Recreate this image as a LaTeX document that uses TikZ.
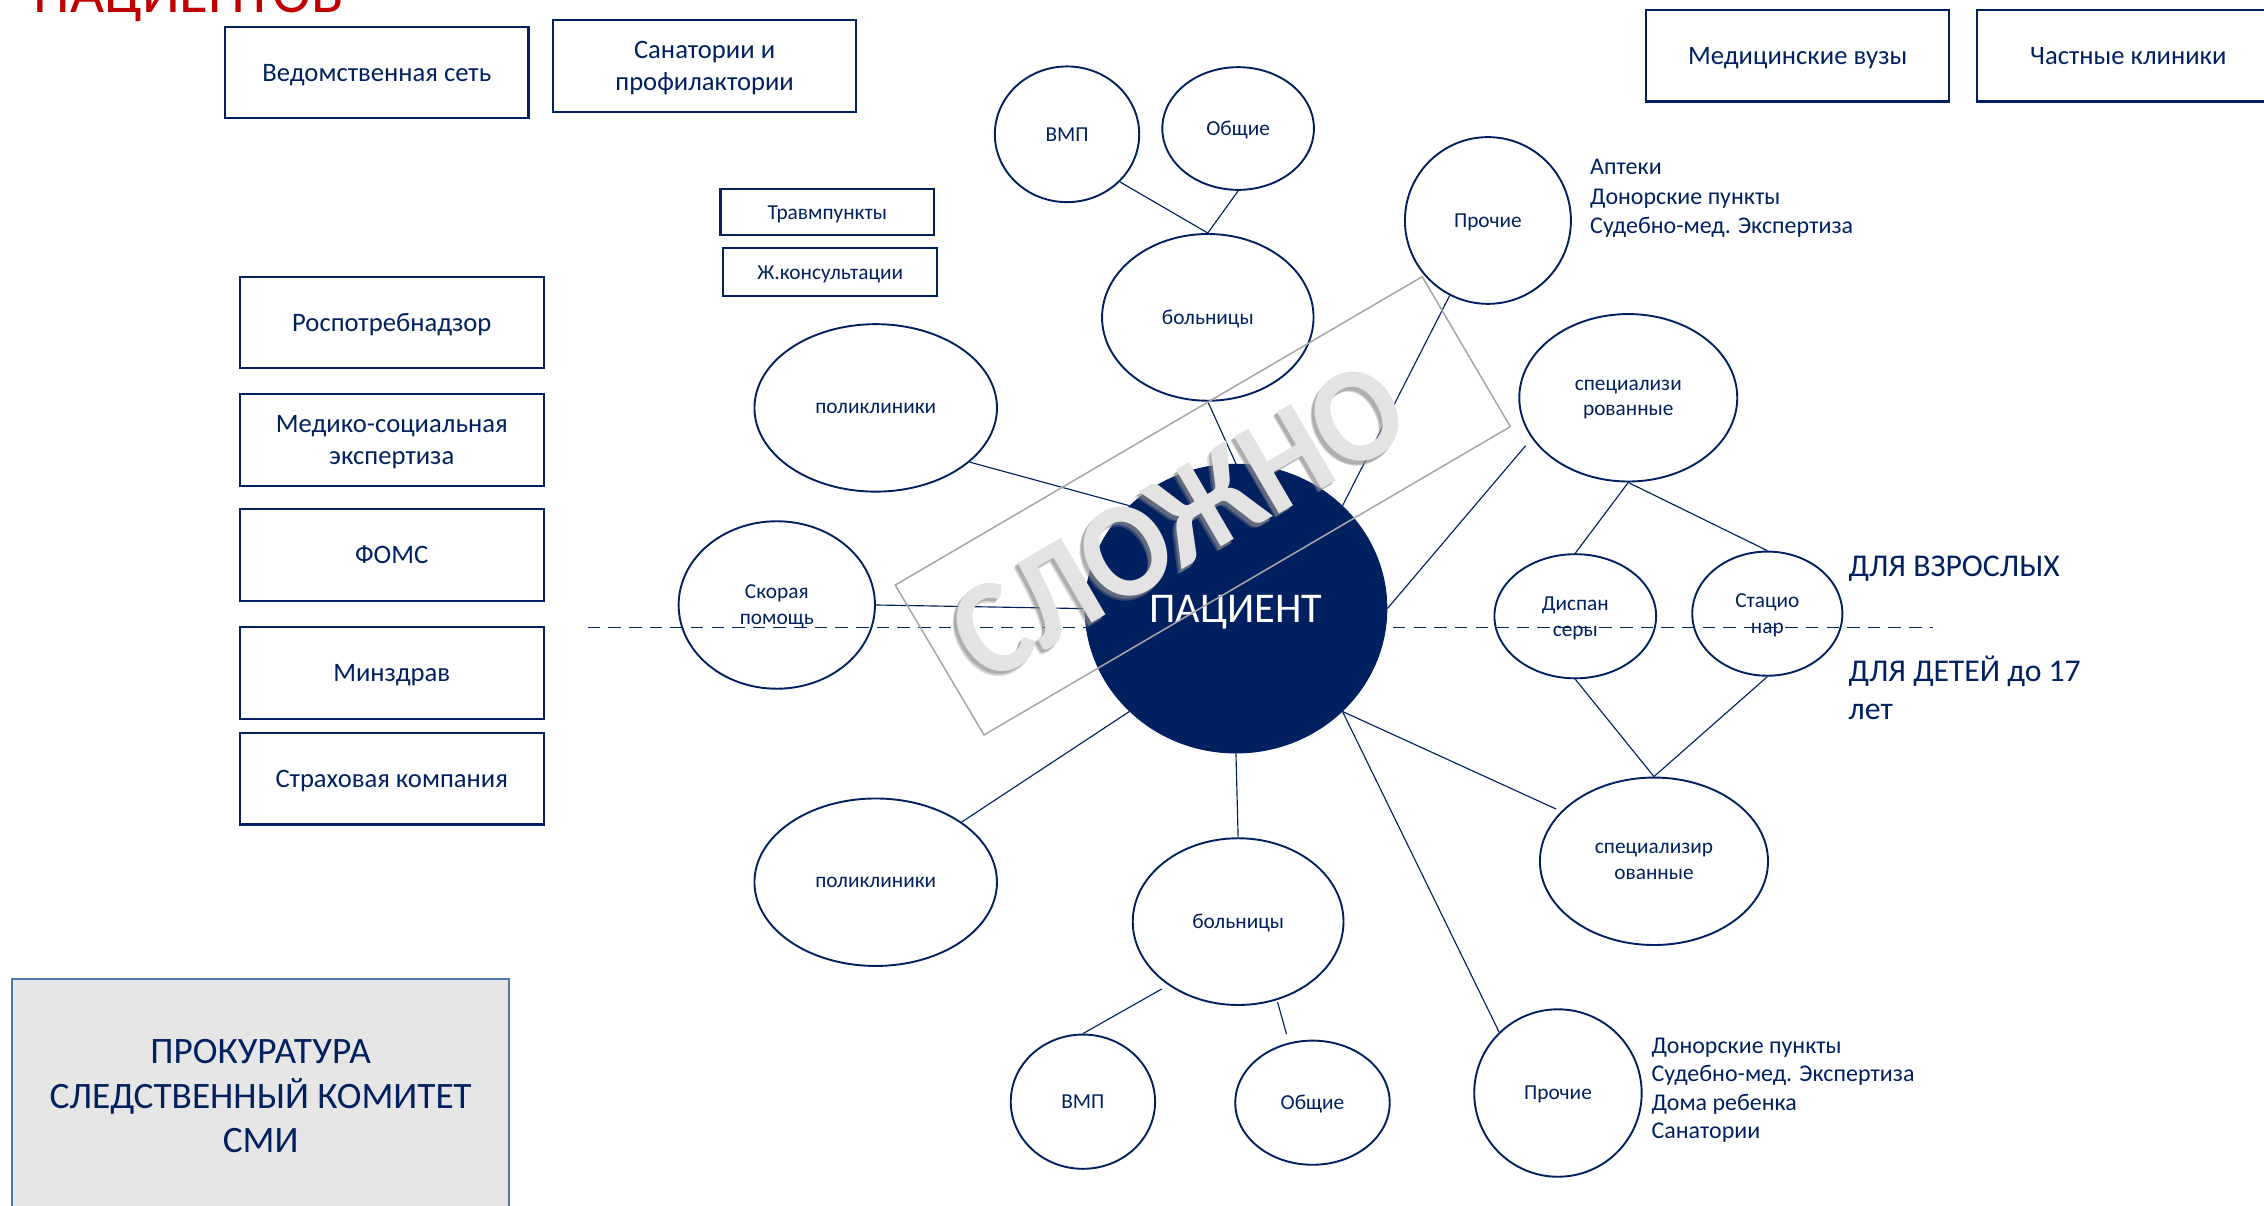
\documentclass[tikz,border=0pt]{standalone}
\usepackage{fontspec}
\setmainfont{Carlito}
\usetikzlibrary{shapes.geometric}
\definecolor{navy}{HTML}{002060}
\definecolor{titlered}{HTML}{C00000}
\definecolor{prokfill}{HTML}{E6E6E6}
\definecolor{prokline}{HTML}{4A78B0}
\definecolor{wmline}{HTML}{A6A6A6}
\definecolor{wmtext}{HTML}{E3E3E3}
\definecolor{wmshadow}{HTML}{8C8C8C}
\tikzset{
  box/.style={draw=navy, line width=0.85pt, rectangle, inner sep=0pt, align=center,
    text=navy, text depth=0pt, font=\fontsize{10.5}{12.5}\selectfont},
  smallbox/.style={box, font=\fontsize{8.4}{10.2}\selectfont},
  ell/.style={draw=navy, line width=0.75pt, ellipse, inner sep=0pt, align=center,
    text=navy, text depth=0pt, font=\fontsize{8.4}{10.2}\selectfont},
  con/.style={draw=navy, line width=0.45pt},
  listtxt/.style={anchor=base west, inner sep=0pt, text=navy, font=\fontsize{9.45}{11.2}\selectfont},
  agetxt/.style={anchor=base west, inner sep=0pt, text=navy, font=\fontsize{12.5}{15}\selectfont},
  wmframe/.style={draw=wmline, line width=0.6pt},
  wmfont/.style={inner sep=0pt, rotate=30.3, xscale=0.92, font=\fontsize{54}{64}\selectfont\bfseries}
}
\begin{document}
\begin{tikzpicture}[x=0.02cm, y=-0.02cm]
\useasboundingbox (0,0) rectangle (1568,835);

% title (cut off at the top)
\node[anchor=base west, inner sep=0pt, text=titlered, font=\fontsize{23.2}{27}\selectfont] (title) at (23,8.5) {ПАЦИЕНТОВ};

% dashed divider
\coordinate (dL) at (407,434.5);
\coordinate (dR) at (1339,434.5);
\draw[draw=navy, line width=0.6pt, dash pattern=on 8.7*0.02cm off 5.6*0.02cm] (dL) -- (dR);

% top boxes
\node[box, minimum width=4.2cm, minimum height=1.26cm] (ved) at (261,50.4) {Ведомственная сеть};
\node[box, minimum width=4.2cm, minimum height=1.27cm] (san) at (488,45.6) {Санатории и\\профилактории};
\node[box, minimum width=4.2cm, minimum height=1.27cm] (med) at (1245,38.6) {Медицинские вузы};
\node[box, minimum width=4.2cm, minimum height=1.27cm] (chas) at (1474,38.6) {Частные клиники};
\node[smallbox, minimum width=2.96cm, minimum height=0.64cm] (trav) at (573,147) {Травмпункты};
\node[smallbox, minimum width=2.96cm, minimum height=0.66cm] (zhk) at (575,188.5) {Ж.консультации};

% left column boxes
\node[box, minimum width=4.21cm, minimum height=1.26cm] (ros) at (271.3,223.2) {Роспотребнадзор};
\node[box, minimum width=4.21cm, minimum height=1.27cm] (mse) at (271.3,304.8) {Медико-социальная\\экспертиза};
\node[box, minimum width=4.21cm, minimum height=1.27cm] (foms) at (271.3,384.3) {ФОМС};
\node[box, minimum width=4.21cm, minimum height=1.28cm] (minz) at (271.3,466) {Минздрав};
\node[box, minimum width=4.21cm, minimum height=1.27cm] (strah) at (271.3,539.3) {Страховая компания};

% bottom-left grey box
\node[draw=prokline, fill=prokfill, line width=0.8pt, rectangle, inner sep=0pt, align=center,
  text=navy, text depth=0pt, font=\fontsize{14.7}{17.7}\selectfont, minimum width=6.88cm, minimum height=3.23cm]
  (prok) at (180.5,759) {ПРОКУРАТУРА\\СЛЕДСТВЕННЫЙ КОМИТЕТ\\СМИ};

% ellipses
\node[ell, minimum width=2.0cm, minimum height=1.88cm] (vmpT) at (739,93) {ВМП};
\node[ell, minimum width=2.1cm, minimum height=1.7cm] (obT) at (857.5,89) {Общие};
\node[ell, minimum width=2.93cm, minimum height=2.31cm] (bolT) at (836.5,219.8) {больницы};
\node[ell, minimum width=2.3cm, minimum height=2.31cm] (proT) at (1030.5,152.7) {Прочие};
\node[ell, minimum width=3.02cm, minimum height=2.32cm] (specT) at (1127.7,275.5) {специализи\\рованные};
\node[ell, minimum width=3.36cm, minimum height=2.32cm] (polT) at (606.5,282.5) {поликлиники};
\node[ell, minimum width=2.72cm, minimum height=2.32cm] (skor) at (538,419) {Скорая\\помощь};
\node[ell, minimum width=2.24cm, minimum height=1.72cm] (disp) at (1091,426.8) {Диспан\\серы};
\node[ell, minimum width=2.08cm, minimum height=1.72cm] (stat) at (1224,425) {Стацио\\нар};
\node[ellipse, fill=navy, draw=navy, inner sep=0pt, minimum width=4.18cm, minimum height=4.0cm,
  text=white, text depth=0pt, font=\fontsize{16.7}{19}\selectfont] (pat) at (856,421.5) {ПАЦИЕНТ};
\node[ell, minimum width=3.36cm, minimum height=2.32cm] (polB) at (606.5,611) {поликлиники};
\node[ell, minimum width=2.92cm, minimum height=2.31cm] (bolB) at (857.5,638.3) {больницы};
\node[ell, minimum width=2.0cm, minimum height=1.86cm] (vmpB) at (750,763) {ВМП};
\node[ell, minimum width=2.14cm, minimum height=1.72cm] (obB) at (909,763.7) {Общие};
\node[ell, minimum width=3.16cm, minimum height=2.32cm] (specB) at (1145.5,596.5) {специализир\\ованные};
\node[ell, minimum width=2.32cm, minimum height=2.32cm] (proB) at (1079,757) {Прочие};

% side texts
\node[listtxt] (lA1) at (1101,121.2) {Аптеки};
\node[listtxt] (lA2) at (1101,141.3) {Донорские пункты};
\node[listtxt] (lA3) at (1101,161.4) {Судебно-мед. Экспертиза};
\node[listtxt] (lB1) at (1143.5,729.6) {Донорские пункты};
\node[listtxt] (lB2) at (1143.5,749.2) {Судебно-мед. Экспертиза};
\node[listtxt] (lB3) at (1143.5,768.8) {Дома ребенка};
\node[listtxt] (lB4) at (1143.5,788.4) {Санатории};
\node[agetxt] (adult) at (1280,399.4) {ДЛЯ ВЗРОСЛЫХ};
\node[agetxt] (kids1) at (1280,472.3) {ДЛЯ ДЕТЕЙ до 17};
\node[agetxt] (kids2) at (1280,498.6) {лет};

% connectors
\coordinate (c7) at (1056.6,308.7);
\coordinate (c10) at (804.5,685);
\coordinate (c11a) at (884.8,694);
\coordinate (c11b) at (891,716.2);
\coordinate (c12) at (1077.7,560.3);
\draw[con] (vmpT.-42) -- (bolT.north);
\draw[con] (obT.south) -- (bolT.north);
\draw[con] (bolT.south) -- (pat.north);
\draw[con] (polT.-30) -- (pat.136);
\draw[con] (skor.east) -- (pat.west);
\draw[con] (proT.-117) -- (pat.44);
\draw[con] (c7) -- (pat.east);
\draw[con] (pat.-136) -- (polB.35);
\draw[con] (pat.south) -- (bolB.north);
\draw[con] (c10) -- (vmpB.north);
\draw[con] (c11a) -- (c11b);
\draw[con] (pat.-44) -- (c12);
\draw[con] (pat.-44) -- (proB.134);
\draw[con] (specT.south) -- (disp.north);
\draw[con] (specT.south) -- (stat.north);
\draw[con] (disp.south) -- (specB.north);
\draw[con] (stat.south) -- (specB.north);

% watermark
\coordinate (wL) at (620,405.2);
\coordinate (wB) at (681.5,509);
\coordinate (wR) at (1046,295.5);
\coordinate (wT) at (985,191.6);
\draw[wmframe] (wL) -- (wB) -- (wR) -- (wT) -- cycle;
\node[wmfont, text=wmshadow, opacity=0.35] (wmS1) at (813.2,364.4) {СЛОЖНО};
\node[wmfont, text=wmshadow, opacity=0.55] (wmS2) at (814.2,363.2) {СЛОЖНО};
\node[wmfont, text=wmtext] (wm) at (816,361) {СЛОЖНО};
\end{tikzpicture}
\end{document}
